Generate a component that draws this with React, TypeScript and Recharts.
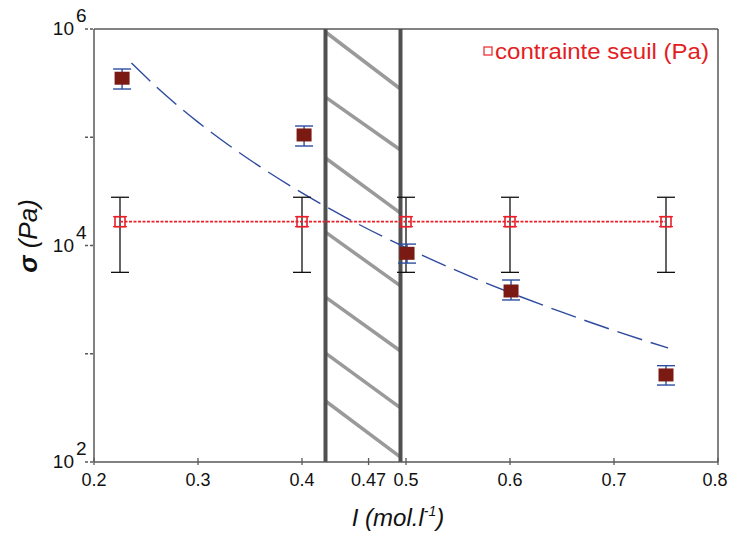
import React from 'react';
import {
  ComposedChart,
  Line,
  Scatter,
  XAxis,
  YAxis,
  ErrorBar,
  ReferenceLine,
  Legend,
} from 'recharts';

// measured yield stress (dark red squares) with blue error bars
const ionicStrength = [0.227, 0.402, 0.501, 0.601, 0.75];
const sigmaMeasured = [351000, 105000, 8470, 3800, 637];
const sigmaMeasuredLow = [279000, 83000, 6880, 3140, 514];
const sigmaMeasuredHigh = [427000, 127000, 10300, 4800, 776];

// "contrainte seuil (Pa)" series (open red squares, black error bars)
const thresholdX = [0.225, 0.4, 0.5, 0.6, 0.75];
const thresholdSigma = [16600, 16600, 16600, 16600, 16600];
const thresholdLow = [5650, 5650, 5650, 5650, 5650];
const thresholdHigh = [27900, 27900, 27900, 27900, 27900];

// blue dashed fit curve
const fitX = [0.236, 0.26, 0.28, 0.3, 0.33, 0.36, 0.4, 0.44, 0.48, 0.52, 0.56, 0.6, 0.65, 0.7, 0.752];
const fitSigma = [484000, 292000, 198000, 138000, 83900, 53200, 30600, 18600, 11800, 7780, 5270, 3670, 2420, 1640, 1130];

// hatched transition band
const bandLeft = 0.4226;
const bandRight = 0.4947;
const hatchLeftY = [938000, 235000, 64300, 13300, 3340, 1015, 366];
const hatchRightY = [279000, 76200, 19900, 4230, 1060, 316, 111];

const xTicks = [0.2, 0.3, 0.4, 0.464, 0.5, 0.6, 0.7, 0.8];
const xTickLabels = ['0.2', '0.3', '0.4', '0.47', '0.5', '0.6', '0.7', '0.8'];
const yTicks = [100, 1000, 10000, 100000, 1000000];

const FONT = '"Liberation Sans", Arial, sans-serif';
const AXIS = '#595959';

const measuredData = ionicStrength.map((x, i) => ({
  x,
  y: sigmaMeasured[i],
  err: [sigmaMeasured[i] - sigmaMeasuredLow[i], sigmaMeasuredHigh[i] - sigmaMeasured[i]],
}));
const thresholdData = thresholdX.map((x, i) => ({
  x,
  y: thresholdSigma[i],
  err: [thresholdSigma[i] - thresholdLow[i], thresholdHigh[i] - thresholdSigma[i]],
}));
const fitData = fitX.map((x, i) => ({ x, y: fitSigma[i] }));

const XTick = (props: any) => {
  const { x, y, payload, index } = props;
  const i = xTicks.indexOf(payload.value);
  const last = i === xTicks.length - 1;
  return (
    <g>
      <line x1={x} x2={x} y1={y - 4} y2={y + 3} stroke={AXIS} strokeWidth={1.3} />
      <text x={last ? x - 3 : x} y={y + 24} textAnchor="middle" fontSize={18} fontFamily={FONT} fill="#111">
        {xTickLabels[i >= 0 ? i : index]}
      </text>
    </g>
  );
};

const YTick = (props: any) => {
  const { x, y, payload } = props;
  const exp = Math.round(Math.log10(payload.value));
  const labeled = exp % 2 === 0;
  return (
    <g>
      <line x1={x - 9} x2={x} y1={y} y2={y} stroke={AXIS} strokeWidth={1.3} strokeDasharray="3 2" />
      {labeled && (
        <text x={x - 20} y={y + 6} textAnchor="end" fontSize={19} fontFamily={FONT} fill="#111">
          10
        </text>
      )}
      {labeled && (
        <text x={x - 18} y={y - 7} fontSize={19} fontFamily={FONT} fill="#111">
          {exp}
        </text>
      )}
    </g>
  );
};

const RedSquare = (props: any) => {
  const { cx, cy, index } = props;
  if (cx == null || cy == null) return null;
  return (
    <g key={`rs-${index}`}>
      <rect x={cx - 5} y={cy - 5} width={10} height={10} fill="none" stroke="#E8202A" strokeWidth={1.6} />
      <line x1={cx - 7} x2={cx + 7} y1={cy - 5} y2={cy - 5} stroke="#E8202A" strokeWidth={1.2} />
      <line x1={cx - 7} x2={cx + 7} y1={cy + 5} y2={cy + 5} stroke="#E8202A" strokeWidth={1.2} />
    </g>
  );
};

const DarkSquare = (props: any) => {
  const { cx, cy } = props;
  return <rect x={cx - 7.5} y={cy - 6.5} width={15} height={13} fill="#7B1A13" />;
};

const LegendBox = () => (
  <svg width={240} height={34}>
    <rect x={6} y={13} width={8} height={8} fill="none" stroke="#E8202A" strokeWidth={1.2} />
    <text x={17} y={25} fontSize={22} fontFamily={FONT} fill="#E31E24" textLength={214} lengthAdjust="spacingAndGlyphs">
      contrainte seuil (Pa)
    </text>
  </svg>
);

export default function App() {
  return (
    <div style={{ position: 'absolute', left: 0, top: 0, background: '#fff' }}>
      <ComposedChart width={729} height={534} margin={{ top: 29, right: 11, bottom: 0, left: 0 }}>
        <XAxis
          dataKey="x"
          type="number"
          domain={[0.2, 0.8]}
          ticks={xTicks}
          interval={0}
          allowDataOverflow
          tick={<XTick />}
          tickLine={false}
          tickSize={0}
          tickMargin={0}
          axisLine={{ stroke: AXIS, strokeWidth: 1.5 }}
          height={72}
          label={{
            content: (p: any) => {
              const vb = p.viewBox;
              return (
                <text x={vb.x + vb.width / 2 - 8} y={vb.y + 64} textAnchor="middle" fontSize={24} fontStyle="italic" fontFamily={FONT} fill="#111">
                  I (mol.l
                  <tspan fontSize={14} dy={-10}>-1</tspan>
                  <tspan dy={10}>)</tspan>
                </text>
              );
            },
          }}
        />
        <YAxis
          scale="log"
          type="number"
          domain={[100, 1000000]}
          ticks={yTicks}
          interval={0}
          allowDataOverflow
          width={94}
          tick={<YTick />}
          tickLine={false}
          tickSize={0}
          tickMargin={0}
          axisLine={{ stroke: AXIS, strokeWidth: 1.5 }}
          label={{
            content: () => (
              <text
                transform="translate(37, 236) rotate(-90)"
                textAnchor="middle"
                fontSize={26}
                fontStyle="italic"
                fontFamily={FONT}
                fill="#111"
              >
                <tspan fontWeight="bold">σ</tspan>
                <tspan>  (Pa)</tspan>
              </text>
            ),
          }}
        />
        <ReferenceLine y={1000000} stroke={AXIS} strokeWidth={1.5} />
        <ReferenceLine x={0.8} stroke={AXIS} strokeWidth={1.5} />

        {hatchLeftY.map((yl, i) => (
          <ReferenceLine
            key={`h-${i}`}
            segment={[
              { x: bandLeft, y: yl },
              { x: bandRight, y: hatchRightY[i] },
            ]}
            stroke="#9A9A9A"
            strokeWidth={3.5}
          />
        ))}
        <ReferenceLine x={bandLeft} stroke="#505050" strokeWidth={4} />
        <ReferenceLine x={bandRight} stroke="#505050" strokeWidth={4} />

        <Line
          data={fitData}
          dataKey="y"
          type="monotone"
          stroke="#2E4A9E"
          strokeWidth={1.4}
          strokeDasharray="26 9"
          dot={false}
          isAnimationActive={false}
          legendType="none"
        />
        <Line
          data={thresholdData}
          dataKey="y"
          name="contrainte seuil (Pa)"
          stroke="#E8202A"
          strokeWidth={1.8}
          strokeDasharray="3 1.5"
          dot={<RedSquare />}
          activeDot={false}
          isAnimationActive={false}
        >
          <ErrorBar dataKey="err" direction="y" width={9} stroke="#111" strokeWidth={1.3} />
        </Line>
        <Scatter
          data={measuredData}
          dataKey="y"
          shape={<DarkSquare />}
          isAnimationActive={false}
          legendType="none"
        >
          <ErrorBar dataKey="err" direction="y" width={9} stroke="#2C4DA0" strokeWidth={1.4} />
        </Scatter>
        <Legend
          layout="horizontal"
          verticalAlign="middle"
          align="center"
          content={<LegendBox />}
          wrapperStyle={{ left: 478, top: 34, width: 240, height: 34 }}
        />
      </ComposedChart>
    </div>
  );
}
